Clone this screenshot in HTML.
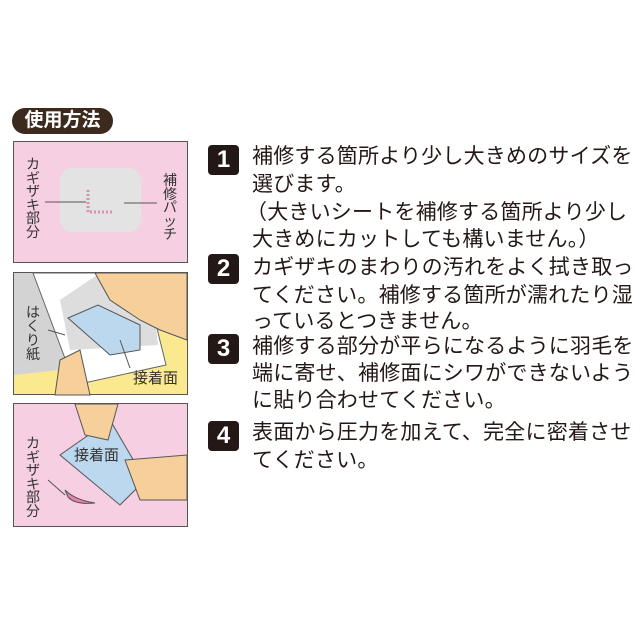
<!DOCTYPE html>
<html><head><meta charset="utf-8"><style>
body{margin:0;background:#fff;}
#c{position:relative;width:640px;height:640px;overflow:hidden;background:#fff;font-family:"Liberation Sans","Noto Sans CJK JP",sans-serif;color:#231815;}
.l{position:absolute;left:252px;font-size:21px;line-height:24px;white-space:nowrap;letter-spacing:0.2px;}
.b{position:absolute;left:208px;width:31px;height:30px;background:#231815;border-radius:4px;color:#fff;font-weight:bold;font-size:24px;line-height:30px;text-align:center;}
.v{position:absolute;font-size:14px;line-height:13.5px;width:16px;text-align:center;color:#333;}
</style></head><body><div id="c">
<div style="position:absolute;left:12px;top:108px;width:101px;height:26px;background:#3b2a1d;border-radius:13px;color:#fff;font-weight:bold;font-size:19px;line-height:26px;text-align:center;">使用方法</div>

<svg style="position:absolute;left:0;top:0" width="200" height="640">
<rect x="13.5" y="141.5" width="174" height="121" fill="#f6cfe3" stroke="#555" stroke-width="1"/>
<rect x="60" y="168" width="81" height="64" rx="12" fill="#e3e3e3"/>
<path d="M88 190 V212 H113" stroke="#d98fb0" stroke-width="3" stroke-dasharray="2 2" fill="none"/>
<line x1="45" y1="202" x2="86" y2="202" stroke="#555"/>
<line x1="124" y1="203" x2="157" y2="203" stroke="#555"/>

<rect x="13.5" y="272.5" width="174" height="122" fill="#fbe98f" stroke="#555"/>
<path d="M14 273 H120 L150 360 L14 375 Z" fill="#d3d3d3"/>
<path d="M33 273 L75 385 L166 365 L150 300 L100 273 Z" fill="#fff" stroke="#666"/>
<path d="M60 300 L100 273 L150 273 L158 345 L70 350 Z" fill="#cfcfcf" opacity="0.7"/>
<path d="M68 318 L98 305 L140 325 L140 350 L110 355 Z" fill="#bcd8ee" stroke="#555"/>
<path d="M95 273 L187 273 L187 340 L160 330 L140 320 L110 300 Z" fill="#f6cf9a" stroke="#555"/>
<path d="M55 395 L60 360 L80 350 L90 395 Z" fill="#f6cf9a" stroke="#555"/>
<line x1="48" y1="330" x2="65" y2="335" stroke="#555"/>
<line x1="120" y1="340" x2="130" y2="368" stroke="#555"/>

<rect x="13.5" y="403.5" width="174" height="123" fill="#f6cfe3" stroke="#555"/>
<path d="M60 455 L110 420 L145 480 L120 505 Z" fill="#bcd8ee" stroke="#555"/>
<path d="M75 404 L118 404 L108 440 L85 435 Z" fill="#f6cf9a" stroke="#555"/>
<path d="M125 460 L187 455 L187 500 L140 500 Z" fill="#f6cf9a" stroke="#555"/>
<path d="M65 490 Q75 500 95 503 Q75 505 68 497 Z" fill="#e87fae" stroke="#555"/>
<line x1="48" y1="480" x2="65" y2="495" stroke="#555"/>
</svg>
<div class="v" style="left:25px;top:158px">カギザキ部分</div>
<div class="v" style="left:162px;top:174px">補修パッチ</div>
<div class="v" style="left:25px;top:305px;line-height:14px">はくり紙</div>
<div style="position:absolute;left:133px;top:367px;font-size:15px;color:#333">接着面</div>
<div style="position:absolute;left:74px;top:444px;font-size:15px;color:#333">接着面</div>
<div class="v" style="left:25px;top:437px">カギザキ部分</div>

<div class="b" style="top:145px">1</div>
<div class="l" style="top:145px">補修する箇所より少し大きめのサイズを</div>
<div class="l" style="top:173px">選びます。</div>
<div class="l" style="top:201px;left:246px">（大きいシートを補修する箇所より少し</div>
<div class="l" style="top:228px">大きめにカットしても構いません。）</div>
<div class="b" style="top:254px">2</div>
<div class="l" style="top:256px">カギザキのまわりの汚れをよく拭き取っ</div>
<div class="l" style="top:284px">てください。補修する箇所が濡れたり湿</div>
<div class="l" style="top:310px">っているとつきません。</div>
<div class="b" style="top:334px">3</div>
<div class="l" style="top:335px">補修する部分が平らになるように羽毛を</div>
<div class="l" style="top:362px">端に寄せ、補修面にシワができないよう</div>
<div class="l" style="top:389px">に貼り合わせてください。</div>
<div class="b" style="top:421px">4</div>
<div class="l" style="top:421px">表面から圧力を加えて、完全に密着させ</div>
<div class="l" style="top:449px">てください。</div>
</div></body></html>
